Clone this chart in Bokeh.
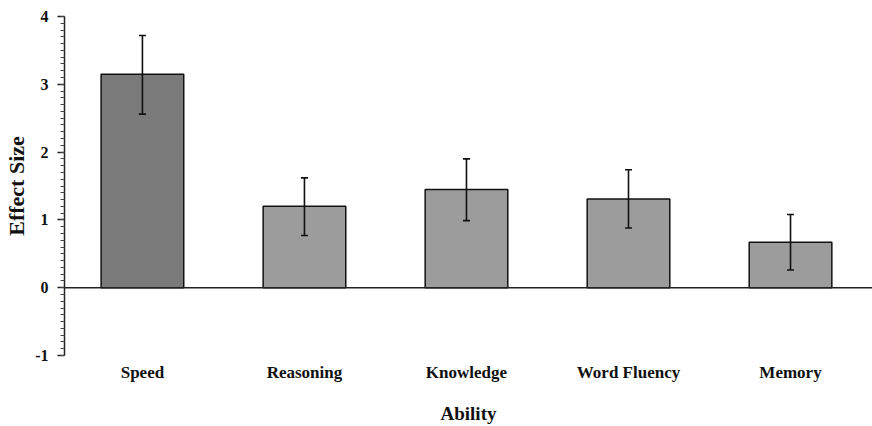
from bokeh.plotting import figure
from bokeh.models import (ColumnDataSource, Range1d, FixedTicker, SingleIntervalTicker,
                          Span, Whisker, TeeHead)
from bokeh.embed import file_html
from bokeh.resources import INLINE

# ---- data ----
abilities = ["Speed", "Reasoning", "Knowledge", "Word Fluency", "Memory"]
effect = [3.15, 1.20, 1.45, 1.31, 0.67]
err_low = [2.56, 0.77, 0.99, 0.88, 0.26]
err_high = [3.72, 1.62, 1.90, 1.74, 1.08]
bar_colors = ["#7a7a7a", "#9c9c9c", "#9c9c9c", "#9c9c9c", "#9c9c9c"]
y_tick_labels = {-1: "-1", 0: "0", 1: "1", 2: "2", 3: "3", 4: "4"}

FONT = "Liberation Serif"
INK = "#111111"

xs = list(range(len(abilities)))
src = ColumnDataSource(dict(x=xs, top=effect, lo=err_low, hi=err_high, color=bar_colors))

p = figure(width=872, height=426, output_backend="svg", toolbar_location=None,
           x_range=Range1d(-0.481, 4.506), y_range=Range1d(-1, 4),
           min_border_left=64, min_border_top=16, min_border_right=0, min_border_bottom=70)
p.background_fill_color = "white"
p.border_fill_color = "white"
p.outline_line_color = None
p.grid.visible = False

p.vbar(x="x", top="top", bottom=0, width=0.51, source=src, fill_color="color",
       line_color=INK, line_width=1.5)

w = Whisker(base="x", lower="lo", upper="hi", source=src, line_color=INK, line_width=1.6,
            upper_head=TeeHead(size=7, line_color=INK, line_width=1.6),
            lower_head=TeeHead(size=7, line_color=INK, line_width=1.6))
w.level = "overlay"
p.add_layout(w)

p.add_layout(Span(location=0, dimension="width", line_color="#222222", line_width=1.5))

# y axis
ya = p.yaxis[0]
ya.ticker = SingleIntervalTicker(interval=1, num_minor_ticks=10)
ya.major_label_overrides = y_tick_labels
ya.axis_label = "Effect Size"
ya.axis_label_text_font = FONT
ya.axis_label_text_font_style = "bold"
ya.axis_label_text_font_size = "22px"
ya.axis_label_text_color = INK
ya.axis_label_standoff = 3
ya.major_label_text_font = FONT
ya.major_label_text_font_style = "bold"
ya.major_label_text_font_size = "16px"
ya.major_label_text_color = INK
ya.major_label_standoff = 9
ya.axis_line_color = "#222222"
ya.axis_line_width = 1.5
ya.major_tick_out = 7
ya.major_tick_in = 0
ya.minor_tick_out = 4
ya.minor_tick_in = 0
ya.major_tick_line_color = "#222222"
ya.minor_tick_line_color = "#444444"
ya.major_tick_line_width = 1.5

# x axis
xa = p.xaxis[0]
xa.ticker = FixedTicker(ticks=xs)
xa.major_label_overrides = {i: name for i, name in enumerate(abilities)}
xa.axis_label = "Ability"
xa.axis_label_text_font = FONT
xa.axis_label_text_font_style = "bold"
xa.axis_label_text_font_size = "19px"
xa.axis_label_text_color = INK
xa.axis_label_standoff = 18
xa.major_label_text_font = FONT
xa.major_label_text_font_style = "bold"
xa.major_label_text_font_size = "17px"
xa.major_label_text_color = INK
xa.major_label_standoff = 1
xa.axis_line_color = None
xa.major_tick_line_color = None
xa.minor_tick_line_color = None

open("out.html", "w").write(file_html(p, INLINE))
